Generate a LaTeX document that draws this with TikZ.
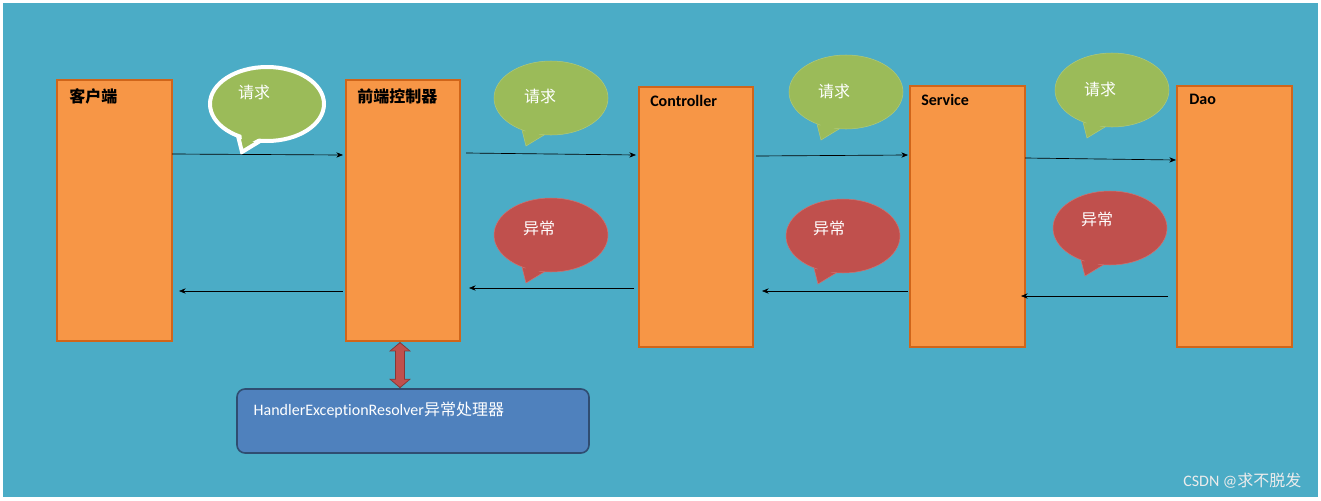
\documentclass[tikz,border=0pt]{standalone}
\usepackage{fontspec}
\setmainfont{Carlito}[Ligatures=NoCommon]
\newfontfamily\cjk{Noto Sans CJK SC}
\usetikzlibrary{arrows.meta,shapes.geometric}
\definecolor{bg}{HTML}{4BACC6}
\definecolor{boxfill}{HTML}{F79646}
\definecolor{boxline}{HTML}{D0651A}
\definecolor{greenfill}{HTML}{9BBB59}
\definecolor{redfill}{HTML}{C0504D}
\definecolor{bluefill}{HTML}{4F81BD}
\tikzset{
  layer/.style={draw=boxline,line width=1.2pt,fill=boxfill},
  layerlabel/.style={anchor=north west,font=\bfseries\large,inner sep=0pt},
  flow/.style={-{Stealth[length=5pt,width=4pt]},line width=0.5pt},
}
\newcommand{\bubble}[5]{%
  \fill[#4,draw=#5,line width=#3] (#1-30,#2+28) -- (#1-25,#2+48) -- (#1-2,#2+34) -- cycle;
  \node [ellipse,fill=#4,draw=#5,line width=#3,minimum width=114*0.75pt,minimum height=74*0.75pt,inner sep=0pt] at (#1,#2) {};
  \fill[#4] (#1-26,#2+28) -- (#1-24,#2+43) -- (#1-6,#2+33) -- cycle;
}
\begin{document}
\begin{tikzpicture}[x=0.75pt,y=-0.75pt]
\useasboundingbox (0,0) rectangle (1321,500);
\fill[white] (0,0) rectangle (1321,500);
\fill[bg] (3,3) rectangle (1318,497);
% layers
\draw[layer] (57,80) rectangle (172,341);
\draw[layer] (346,80) rectangle (460,341);
\draw[layer] (639,87) rectangle (753,347);
\draw[layer] (910,86) rectangle (1025,347);
\draw[layer] (1177,86) rectangle (1292,347);
\node (client) [layerlabel] at (69,88) {\cjk 客户端};
\node (front) [layerlabel] at (357,88) {\cjk 前端控制器};
\node (ctrl) [layerlabel] at (650,95) {Controller};
\node (svc) [layerlabel] at (921,94) {Service};
\node (dao) [layerlabel] at (1189,94) {Dao};
% bubbles
\bubble{267}{104}{3pt}{greenfill}{white}
\bubble{551}{98}{0.4pt}{greenfill}{greenfill!80!white}
\bubble{846}{92}{0.4pt}{greenfill}{greenfill!80!white}
\bubble{1112}{90}{0.4pt}{greenfill}{greenfill!80!white}
\bubble{551}{235}{0.4pt}{redfill}{redfill!80!white}
\bubble{843}{236}{0.4pt}{redfill}{redfill!80!white}
\bubble{1110}{228}{0.4pt}{redfill}{redfill!80!white}
\foreach \x/\y/\t in {254/92/请求,540/96/请求,834/91/请求,1100/89/请求,539/228/异常,829/228/异常,1097/219/异常}
  \node[text=white,font=\cjk\large] at (\x,\y) {\t};
% requests
\coordinate (r1a) at (172,154); \coordinate (r1b) at (343,155);
\coordinate (r2a) at (466,153); \coordinate (r2b) at (636,155);
\coordinate (r3a) at (756,156); \coordinate (r3b) at (908,155);
\coordinate (r4a) at (1025,158); \coordinate (r4b) at (1176,160);
\draw[flow] (r1a) -- (r1b);
\draw[flow] (r2a) -- (r2b);
\draw[flow] (r3a) -- (r3b);
\draw[flow] (r4a) -- (r4b);
% exceptions
\coordinate (x1a) at (343,291); \coordinate (x1b) at (179,291);
\coordinate (x2a) at (634,288); \coordinate (x2b) at (469,288);
\coordinate (x3a) at (908,291); \coordinate (x3b) at (762,291);
\coordinate (x4a) at (1168,296); \coordinate (x4b) at (1021,296);
\draw[flow] (x1a) -- (x1b);
\draw[flow] (x2a) -- (x2b);
\draw[flow] (x3a) -- (x3b);
\draw[flow] (x4a) -- (x4b);
% resolver
\node (resolver) [draw=bluefill!60!black,line width=1.2pt,fill=bluefill,rounded corners=6pt,minimum width=352*0.75pt,minimum height=64*0.75pt,inner sep=0pt] at (413,421) {};
\node [anchor=west,text=white,font=\large] at (249,410) {HandlerExceptionResolver{\cjk 异常处理器}};
\draw[{Triangle[length=7pt,width=16pt]}-{Triangle[length=7pt,width=16pt]},line width=8pt,draw=redfill!70!black] (400,342) -- (resolver.north -| 400,0);
\draw[{Triangle[length=5.5pt,width=13pt]}-{Triangle[length=5.5pt,width=13pt]},line width=6pt,draw=redfill,shorten <=1pt,shorten >=1pt] (400,342) -- (resolver.north -| 400,0);
\node [anchor=east,text=white!85!gray,font=\large] at (1306,481) {CSDN @{\cjk 求不脱发}};
\end{tikzpicture}
\end{document}
